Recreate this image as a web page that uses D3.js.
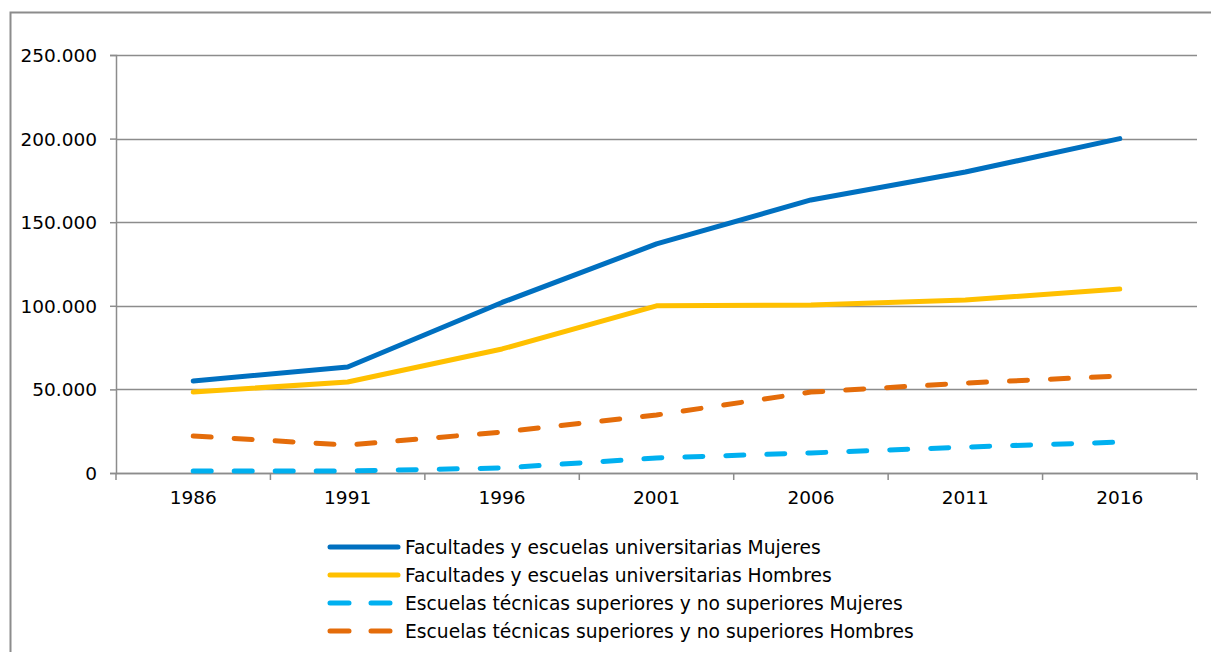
<!DOCTYPE html>
<html>
<head>
<meta charset="utf-8">
<script src="https://cdn.jsdelivr.net/npm/d3@7"></script>
<style>
  body { margin: 0; background: #fff; }
  text { font-family: Verdana, "DejaVu Sans", sans-serif; fill: #000; }
</style>
</head>
<body>
<script>
// data
var years = ["1986", "1991", "1996", "2001", "2006", "2011", "2016"];
var univMujeres = [55000, 63400, 102000, 137000, 163300, 180000, 200000];
var univHombres = [48400, 54400, 74200, 100000, 100500, 103500, 110000];
var tecMujeres = [1200, 1200, 3000, 9000, 12000, 15500, 18500];
var tecHombres = [22100, 16700, 24500, 34700, 48400, 53800, 58000];
var yTicks = [0, 50000, 100000, 150000, 200000, 250000];

var series = [
  {name: "Facultades y escuelas universitarias Mujeres", values: univMujeres, color: "#0070C0", dash: null},
  {name: "Facultades y escuelas universitarias Hombres", values: univHombres, color: "#FFC000", dash: null},
  {name: "Escuelas técnicas superiores y no superiores Mujeres", values: tecMujeres, color: "#00B0F0", dash: "18,23"},
  {name: "Escuelas técnicas superiores y no superiores Hombres", values: tecHombres, color: "#E46C0A", dash: "18,23"}
];

var W = 1211, H = 652;
var margin = {top: 55, left: 116, right: 14, bottom: 179};
var width = W - margin.left - margin.right;
var height = H - margin.top - margin.bottom;

var svg = d3.select("body").append("svg")
  .attr("width", W)
  .attr("height", H);

// outer chart frame (left and top edges visible)
svg.append("path")
  .attr("d", "M10.5," + H + " V12.5 H" + W)
  .attr("fill", "none")
  .attr("stroke", "#8c8c8c")
  .attr("stroke-width", 2);

var chart = svg.append("g")
  .attr("transform", "translate(" + margin.left + "," + margin.top + ")");

var x = d3.scaleBand()
  .domain(years)
  .range([0, width]);

var y = d3.scaleLinear()
  .domain([0, 250000])
  .range([height, 0]);

var fmt = function(d) { return d === 0 ? "0" : d3.format(",")(d).replace(/,/g, "."); };

// gridlines
chart.append("g")
  .selectAll("line")
  .data(yTicks)
  .enter().append("line")
  .attr("x1", 0)
  .attr("x2", width)
  .attr("y1", d => Math.round(y(d)) + 0.5)
  .attr("y2", d => Math.round(y(d)) + 0.5)
  .attr("stroke", "#8c8c8c")
  .attr("stroke-width", 1.5);

// y axis
var yAxis = chart.append("g")
  .call(d3.axisLeft(y).tickValues(yTicks).tickFormat(fmt).tickSize(6).tickPadding(13));
yAxis.select(".domain").attr("stroke", "#8c8c8c").attr("stroke-width", 1.5);
yAxis.selectAll(".tick line").attr("stroke", "#8c8c8c").attr("stroke-width", 1.5);
yAxis.selectAll("text").style("font-size", "18.5px").attr("dy", "0.35em");

// x axis: ticks at band boundaries
var xg = chart.append("g")
  .attr("transform", "translate(0," + height + ")")
  .call(d3.axisBottom(x).tickSize(0).tickPadding(18));
xg.select(".domain").attr("stroke", "#8c8c8c").attr("stroke-width", 1.5);
xg.selectAll("text").style("font-size", "18.5px");
xg.selectAll(".bound")
  .data(d3.range(years.length + 1))
  .enter().append("line")
  .attr("class", "bound")
  .attr("x1", i => i * x.step())
  .attr("x2", i => i * x.step())
  .attr("y1", 0)
  .attr("y2", 7)
  .attr("stroke", "#8c8c8c")
  .attr("stroke-width", 1.5);

var line = d3.line()
  .x((d, i) => x(years[i]) + x.bandwidth() / 2)
  .y(d => y(d));

chart.selectAll(".series")
  .data(series.slice().reverse())
  .enter().append("path")
  .attr("class", "series")
  .attr("fill", "none")
  .attr("stroke", d => d.color)
  .attr("stroke-width", 5)
  .attr("stroke-linecap", "round")
  .attr("stroke-linejoin", "round")
  .attr("stroke-dasharray", d => d.dash)
  .attr("d", d => line(d.values));

// legend
var legend = svg.append("g")
  .attr("transform", "translate(330,547)");

var item = legend.selectAll(".item")
  .data(series)
  .enter().append("g")
  .attr("class", "item")
  .attr("transform", (d, i) => "translate(0," + i * 28 + ")");

item.append("line")
  .attr("x1", 0)
  .attr("x2", d => d.dash ? 62 : 68)
  .attr("y1", 0)
  .attr("y2", 0)
  .attr("stroke", d => d.color)
  .attr("stroke-width", 5)
  .attr("stroke-linecap", "round")
  .attr("stroke-dasharray", d => d.dash ? "19,22" : null);

item.append("text")
  .attr("x", 75)
  .attr("y", 0)
  .attr("dy", "0.35em")
  .style("font-size", "18.7px")
  .text(d => d.name);
</script>
</body>
</html>
